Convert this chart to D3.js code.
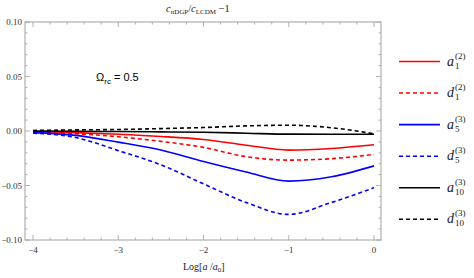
<!DOCTYPE html>
<html><head><meta charset="utf-8">
<script src="https://cdn.jsdelivr.net/npm/d3@7"></script>
<style>body{margin:0;background:#fff}svg{display:block}</style>
</head><body>
<script>
const xs = [-4,-3.5,-3,-2.5,-2,-1.5,-1,-0.5,0];
const a1 = [-0.0005,-0.0015,-0.003,-0.005,-0.0078,-0.013,-0.0175,-0.016,-0.0126];
const d1 = [-0.001,-0.0025,-0.0053,-0.0095,-0.015,-0.0236,-0.0267,-0.0254,-0.0215];
const a5 = [-0.0015,-0.004,-0.0102,-0.0175,-0.028,-0.0376,-0.046,-0.042,-0.032];
const d5 = [-0.002,-0.006,-0.018,-0.031,-0.0485,-0.0656,-0.0765,-0.0656,-0.052];
const a10 = [0,-0.0002,-0.0005,-0.0008,-0.0012,-0.002,-0.0029,-0.003,-0.003];
const d10 = [0.0005,0.001,0.0014,0.0022,0.0032,0.0047,0.0053,0.003,-0.0025];
const xTicks = [-4,-3,-2,-1,0];
const yTicks = [-0.10,-0.05,0,0.05,0.10];
const seriesNames = ["a1","d1","a5","d5","a10","d10"];
const seriesData = [a1,d1,a5,d5,a10,d10];
const seriesColors = ["#ff0000","#ff0000","#0000ff","#0000ff","#000000","#000000"];
const seriesDashed = [false,true,false,true,false,true];
const legendSup = ["(2)","(2)","(3)","(3)","(3)","(3)"];
const legendSub = ["1","1","5","5","10","10"];

const W=474,H=278;
const svg=d3.select("body").append("svg").attr("width",W).attr("height",H);
const L=25,R=381,T=22,B=240;
const x=d3.scaleLinear().domain([-4.094,0.082]).range([L,R]);
const y=d3.scaleLinear().domain([-0.10,0.10]).range([B,T]);
const frameCol="#a0a0a0";
const serif="'Liberation Serif','DejaVu Serif',serif";

// frame
svg.append("rect").attr("x",L).attr("y",T).attr("width",R-L).attr("height",B-T)
  .attr("fill","none").attr("stroke",frameCol).attr("stroke-width",1);

// ticks
const xMinor=d3.range(-4,0.001,0.2).map(v=>+v.toFixed(2));
const g=svg.append("g").attr("stroke",frameCol).attr("stroke-width",0.8);
xMinor.forEach(v=>{
  const major=xTicks.some(t=>Math.abs(t-v)<1e-6);
  const len=major?5:2.5;
  g.append("line").attr("x1",x(v)).attr("x2",x(v)).attr("y1",B).attr("y2",B-len);
  g.append("line").attr("x1",x(v)).attr("x2",x(v)).attr("y1",T).attr("y2",T+len);
});
const yMinor=d3.range(-0.10,0.1001,0.01).map(v=>+v.toFixed(3));
yMinor.forEach(v=>{
  const major=yTicks.some(t=>Math.abs(t-v)<1e-6);
  const len=major?5:2.5;
  g.append("line").attr("y1",y(v)).attr("y2",y(v)).attr("x1",L).attr("x2",L+len);
  g.append("line").attr("y1",y(v)).attr("y2",y(v)).attr("x1",R).attr("x2",R-len);
});
// tick labels
xTicks.forEach(v=>{
  svg.append("text").attr("x",x(v)).attr("y",253).attr("text-anchor","middle")
    .attr("font-family",serif).attr("font-size",9).attr("fill","#333")
    .text(v<0?"\u2212"+Math.abs(v):String(v));
});
yTicks.forEach(v=>{
  const s=Math.abs(v).toFixed(2);
  svg.append("text").attr("x",22).attr("y",y(v)+3).attr("text-anchor","end")
    .attr("font-family",serif).attr("font-size",9).attr("fill","#333")
    .text(v<-1e-9?"\u2212"+s:s);
});

// lines
const line=d3.line().x((d,i)=>x(xs[i])).y(d=>y(d)).curve(d3.curveMonotoneX);
svg.append("clipPath").attr("id","c").append("rect").attr("x",L).attr("y",T).attr("width",R-L).attr("height",B-T);
seriesData.forEach((s,i)=>{
  svg.append("path").attr("d",line(s)).attr("fill","none")
    .attr("stroke",seriesColors[i]).attr("stroke-width",1.6)
    .attr("stroke-dasharray",seriesDashed[i]?"4,3":null)
    .attr("clip-path","url(#c)");
});

// annotation
const ann=svg.append("text").attr("x",96).attr("y",81).attr("font-family","'Liberation Sans',Arial,sans-serif")
  .attr("font-size",11).attr("fill","#000");
ann.append("tspan").text("\u03A9");
ann.append("tspan").attr("font-size",8).attr("dy",2.5).text("rc");
ann.append("tspan").attr("dy",-2.5).text(" = 0.5");

// title
const tt=svg.append("text").attr("x",166).attr("y",12).attr("font-family",serif).attr("font-size",10.5).attr("fill","#222");
tt.append("tspan").attr("font-style","italic").text("c");
tt.append("tspan").attr("font-size",7).attr("dy",2).text("nDGP");
tt.append("tspan").attr("dy",-2).text("/");
tt.append("tspan").attr("font-style","italic").text("c");
tt.append("tspan").attr("font-size",7).attr("dy",2).text("LCDM");
tt.append("tspan").attr("dy",-2).text(" \u22121");

// x label
const xl=svg.append("text").attr("x",183).attr("y",270).attr("font-family",serif).attr("font-size",10).attr("fill","#222");
xl.append("tspan").text("Log[");
xl.append("tspan").attr("font-style","italic").text("a");
xl.append("tspan").text(" /");
xl.append("tspan").attr("font-style","italic").text("a");
xl.append("tspan").attr("font-size",7).attr("dy",2).text("0");
xl.append("tspan").attr("dy",-2).text("]");

// legend
const ly=d3.scaleLinear().domain([0,5]).range([61.5,219.3]);
seriesNames.forEach((n,i)=>{
  const yy=ly(i);
  svg.append("line").attr("x1",399).attr("x2",440).attr("y1",yy).attr("y2",yy)
    .attr("stroke",seriesColors[i]).attr("stroke-width",1.6)
    .attr("stroke-dasharray",seriesDashed[i]?"4,3":null);
  const lg=svg.append("g").attr("font-family",serif).attr("fill","#222");
  lg.append("text").attr("x",447).attr("y",yy+4).attr("font-size",14).attr("font-style","italic").text(n[0]);
  lg.append("text").attr("x",455).attr("y",yy-3).attr("font-size",9).text(legendSup[i]);
  lg.append("text").attr("x",455).attr("y",yy+7).attr("font-size",9).text(legendSub[i]);
});
</script>
</body></html>
